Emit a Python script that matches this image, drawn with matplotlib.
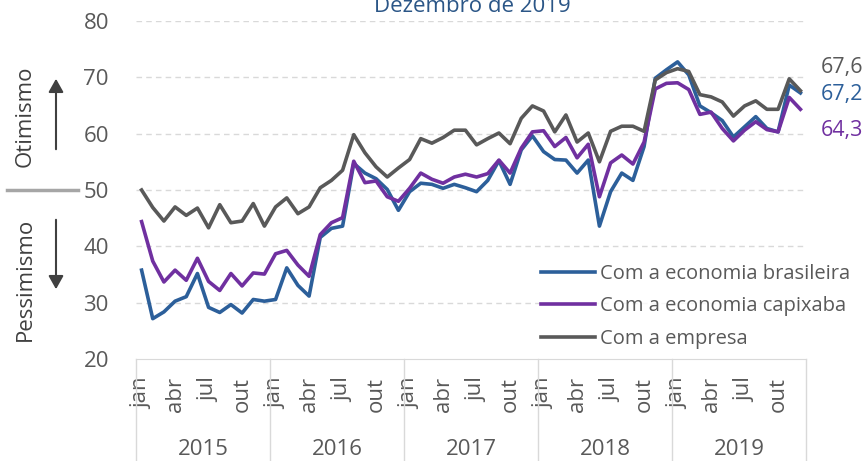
import matplotlib.pyplot as plt
import numpy as np
from matplotlib.patches import FancyArrowPatch
from matplotlib.transforms import blended_transform_factory

plt.rcParams['font.family'] = ['Open Sans', 'DejaVu Sans']

years = ['2015', '2016', '2017', '2018', '2019']
month_labels = ['jan', 'abr', 'jul', 'out']

brasileira = [35.8, 27.2, 28.4, 30.3, 31.1, 35.2, 29.2, 28.3, 29.7, 28.2, 30.6, 30.3,
              30.6, 36.2, 33.1, 31.2, 41.6, 43.2, 43.6, 54.7, 53.0, 52.0, 50.1, 46.4,
              49.7, 51.2, 51.0, 50.3, 51.0, 50.4, 49.7, 51.7, 55.2, 51.0, 57.1, 59.6,
              56.8, 55.4, 55.3, 53.0, 55.3, 43.6, 49.7, 53.0, 51.7, 57.7, 69.8, 71.3,
              72.7, 70.4, 64.9, 63.7, 62.3, 59.4, 61.2, 63.0, 60.9, 60.3, 68.6, 67.2]
capixaba = [44.4, 37.4, 33.7, 35.8, 34.0, 37.9, 33.8, 32.2, 35.2, 33.0, 35.3, 35.1,
            38.7, 39.3, 36.7, 34.7, 42.1, 44.2, 45.1, 55.1, 51.3, 51.6, 48.8, 48.0,
            50.3, 53.0, 51.9, 51.2, 52.3, 52.8, 52.3, 52.9, 55.3, 53.0, 57.4, 60.3,
            60.5, 57.7, 59.3, 55.7, 58.1, 48.8, 54.8, 56.2, 54.6, 58.5, 67.9, 68.9,
            69.0, 67.8, 63.4, 63.8, 60.9, 58.7, 60.6, 62.1, 60.7, 60.3, 66.4, 64.3]
empresa = [50.0, 46.9, 44.5, 47.0, 45.5, 46.8, 43.3, 47.4, 44.2, 44.5, 47.6, 43.6,
           47.0, 48.6, 45.8, 47.0, 50.4, 51.7, 53.5, 59.8, 56.6, 54.1, 52.3, 53.9,
           55.4, 59.1, 58.3, 59.3, 60.6, 60.6, 58.0, 59.1, 60.1, 58.2, 62.7, 64.9,
           64.0, 60.3, 63.3, 58.5, 60.1, 55.0, 60.4, 61.3, 61.3, 60.4, 69.5, 70.8,
           71.5, 71.0, 66.9, 66.5, 65.6, 63.1, 64.9, 65.8, 64.3, 64.3, 69.7, 67.6]

series = [
    ('Com a economia brasileira', brasileira, '#2c5f9a'),
    ('Com a economia capixaba', capixaba, '#7030a0'),
    ('Com a empresa', empresa, '#595959'),
]
# offsets (points) of the end labels
label_offsets = [(15, -1), (15, -15), (15, 17)]

fig = plt.figure(figsize=(8.64, 4.61), dpi=100)
ax = fig.add_axes([136 / 864, 1 - 359.3 / 461, 670 / 864, 338.6 / 461])

x = np.arange(len(empresa))
for (name, vals, col), off in zip(series, label_offsets):
    ax.plot(x, vals, color=col, lw=2.6, label=name)
    ax.annotate(f'{vals[-1]:.1f}'.replace('.', ','), xy=(x[-1], vals[-1]),
                xytext=off, textcoords='offset points', color=col,
                fontsize=15.5, va='center', ha='left', annotation_clip=False)

ax.set_xlim(-0.5, len(x) - 0.5)
ax.set_ylim(20, 80)
ax.set_yticks(range(20, 81, 10))
for v in range(30, 81, 10):
    ax.axhline(v, color='#d9d9d9', lw=1.0, ls=(0, (4, 3)), zorder=0)

for s in ['top', 'right', 'left']:
    ax.spines[s].set_visible(False)
ax.spines['bottom'].set_color('#d9d9d9')
ax.tick_params(axis='y', length=0, pad=19.5, labelsize=16, labelcolor='#595959')

ticks = [i for i in x if i % 3 == 0]
ax.set_xticks(ticks)
ax.set_xticklabels([month_labels[(i % 12) // 3] for i in ticks], rotation=90,
                   fontsize=16, color='#595959')
ax.tick_params(axis='x', length=0, pad=13)

trans = blended_transform_factory(ax.transData, ax.transAxes)
for k, yr in enumerate(years):
    ax.text(12 * k + 5.5, -0.265, yr, transform=trans, ha='center', va='center',
            fontsize=16, color='#595959')
for k in range(len(years) + 1):
    ax.plot([12 * k - 0.5] * 2, [0, -0.31], transform=trans, color='#d9d9d9',
            lw=1.0, clip_on=False)

leg = ax.legend(loc='upper left', bbox_to_anchor=(541 / 864, 1 - 264 / 461),
                bbox_transform=fig.transFigure, frameon=True, fontsize=14.5,
                handlelength=2.7, handletextpad=0.25, labelspacing=0.62,
                borderpad=0, borderaxespad=0)
leg.get_frame().set_facecolor('white')
leg.get_frame().set_edgecolor('none')
for t in leg.get_texts():
    t.set_color('#595959')

# Otimismo / Pessimismo marks on the left
fig.text(25 / 864, 1 - 116 / 461, 'Otimismo', rotation=90, ha='center', va='center',
         fontsize=16, color='#404040')
fig.text(25 / 864, 1 - 279 / 461, 'Pessimismo', rotation=90, ha='center', va='center',
         fontsize=16, color='#404040')
fig.add_artist(plt.Line2D([7 / 864, 78 / 864], [1 - 190 / 461] * 2, color='#a6a6a6', lw=2.5))
fig.patches.append(FancyArrowPatch(
    (56 / 864, 1 - 152 / 461), (56 / 864, 1 - 76 / 461), transform=fig.transFigure,
    arrowstyle='-|>,head_length=8,head_width=4.5', color='#404040', lw=1.5))
fig.patches.append(FancyArrowPatch(
    (56 / 864, 1 - 217 / 461), (56 / 864, 1 - 292 / 461), transform=fig.transFigure,
    arrowstyle='-|>,head_length=8,head_width=4.5', color='#404040', lw=1.5))

fig.text(472 / 864, 1 - 12 / 461, 'Dezembro de 2019', ha='center', va='baseline',
         fontsize=16, color='#2b5687')

fig.savefig('out.png', dpi=100)
